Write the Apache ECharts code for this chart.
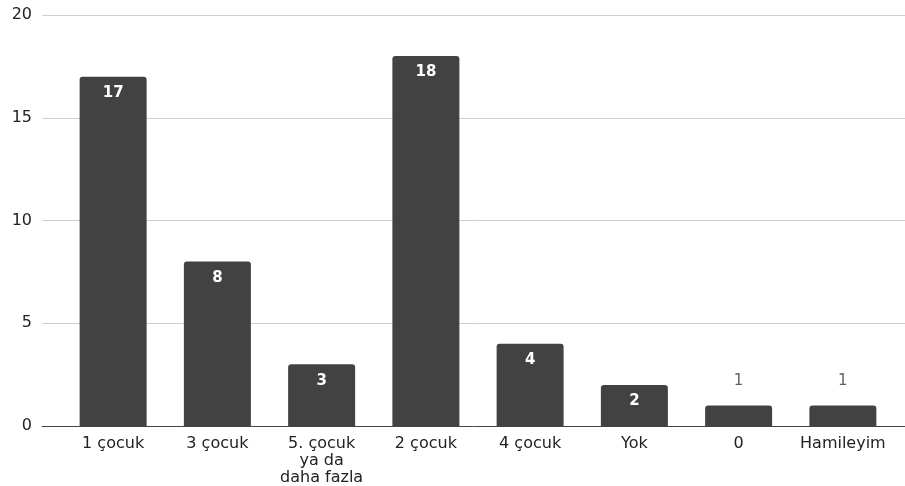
<!DOCTYPE html>
<html><head><meta charset="utf-8">
<script src="https://cdn.jsdelivr.net/npm/echarts@6/dist/echarts.min.js"></script>
<style>html,body{margin:0;padding:0;background:#fff}#c{width:905px;height:486px}</style>
</head><body><div id="c"></div>
<script>
const categories = ['1 çocuk', '3 çocuk', '5. çocuk\nya da\ndaha fazla', '2 çocuk', '4 çocuk', 'Yok', '0', 'Hamileyim'];
const values = [17, 8, 3, 18, 4, 2, 1, 1];
const yTicks = [0, 5, 10, 15, 20];

const FONT = 'DejaVu Sans';
const barData = values.map(v => v < 2 ? {
  value: v,
  label: { position: 'top', distance: 17, color: '#5f5f5f', fontWeight: 'normal' }
} : v);

const chart = echarts.init(document.getElementById('c'), null, { renderer: 'canvas' });
chart.setOption({
  animation: false,
  grid: [
    { left: 42, right: 0, top: 15, bottom: 60, containLabel: false, outerBoundsMode: 'none' },
    { left: 61, right: 10, top: 15, bottom: 60, containLabel: false, outerBoundsMode: 'none' }
  ],
  xAxis: [
    { gridIndex: 0, type: 'category', data: [''], axisLine: { show: true, lineStyle: { color: '#444', width: 1 } },
      axisTick: { show: false }, axisLabel: { show: false } },
    { gridIndex: 1, type: 'category', data: categories, axisLine: { show: false }, axisTick: { show: false },
      axisLabel: { interval: 0, color: '#222', fontFamily: FONT, fontSize: 16, lineHeight: 17, margin: 9 } }
  ],
  yAxis: [
    { gridIndex: 0, type: 'value', min: yTicks[0], max: yTicks[yTicks.length - 1], interval: 5,
      axisLine: { show: false }, axisTick: { show: false },
      axisLabel: { color: '#222', fontFamily: FONT, fontSize: 16, margin: 10 },
      splitLine: { lineStyle: { color: '#d0d0d0', width: 1 } } },
    { gridIndex: 1, type: 'value', min: yTicks[0], max: yTicks[yTicks.length - 1], interval: 5, show: false }
  ],
  series: [{
    type: 'bar', xAxisIndex: 1, yAxisIndex: 1, data: barData, barWidth: 67,
    itemStyle: { color: '#424242', borderRadius: [3, 3, 0, 0] },
    label: { show: true, position: 'insideTop', distance: 9, color: '#ffffff', fontFamily: FONT,
      fontSize: 15, fontWeight: 'bold' }
  }]
});
</script></body></html>
